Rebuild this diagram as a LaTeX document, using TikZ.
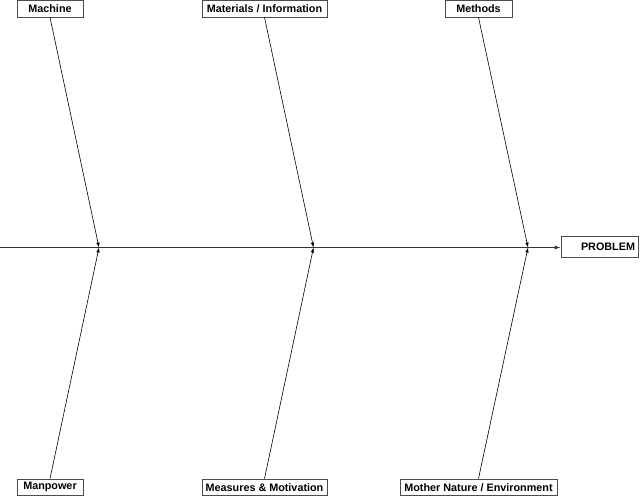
\documentclass[tikz,border=0pt]{standalone}
\usepackage{fontspec}
\setmainfont{Liberation Sans}
\usetikzlibrary{arrows.meta}
\begin{document}
\begin{tikzpicture}[x=1pt,y=-1pt,
  cause/.style={draw=black!70,line width=0.7pt,fill=white,inner sep=0pt,minimum height=16.5pt,
    font=\fontsize{10.8}{12}\selectfont\bfseries},
  effect/.style={cause,inner xsep=3pt,text width=71pt,align=right,minimum height=21pt},
  bone/.style={line width=0.6pt,-{Latex[length=5pt,width=3.5pt]}},
  spine/.style={line width=0.8pt,draw=black!80,-{Latex[length=6pt,width=4pt]}}]
\useasboundingbox[fill=white] (0,0) rectangle (640,496);
% cause boxes
\node[cause,minimum width=66pt] (machine) at (50,8.75) {Machine};
\node[cause,minimum width=125pt] (materials) at (264.5,8.75) {Materials / Information};
\node[cause,minimum width=67pt] (methods) at (478.5,8.75) {Methods};
\node[cause,minimum width=66pt] (manpower) at (50,487.25) {Manpower};
\node[cause,minimum width=125pt] (measures) at (264.5,487.25) {Measures \& Motivation};
\node[cause,minimum width=157pt] (mother) at (478.5,487.25) {Mother Nature / Environment};
\node[effect] (problem) at (599.5,246.5) {PROBLEM};
% spine
\coordinate (start) at (0,247.5);
\coordinate (j1) at (99,247.5);
\coordinate (j2) at (313.5,247.5);
\coordinate (j3) at (528,247.5);
\draw[spine] (start) -- (problem.west |- start);
% bones
\draw[bone] (machine.south) -- (j1);
\draw[bone] (materials.south) -- (j2);
\draw[bone] (methods.south) -- (j3);
\draw[bone] (manpower.north) -- (j1);
\draw[bone] (measures.north) -- (j2);
\draw[bone] (mother.north) -- (j3);
\end{tikzpicture}
\end{document}
